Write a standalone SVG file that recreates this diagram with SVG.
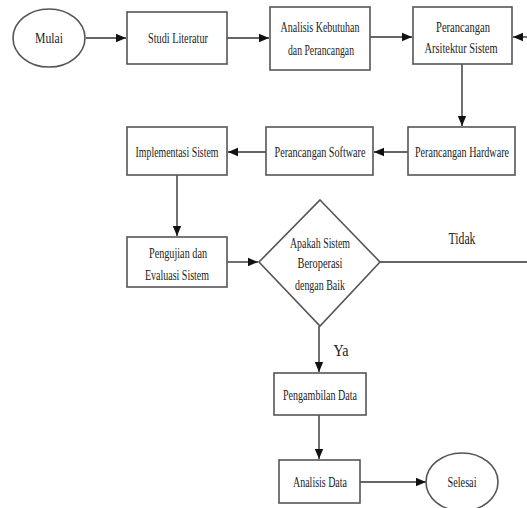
<svg xmlns="http://www.w3.org/2000/svg" width="527" height="508" viewBox="0 0 527 508">
<style>
.n{fill:#fff;stroke:#555;stroke-width:1.6}
.t{font-family:"Liberation Serif","Times New Roman",serif;font-size:14px;fill:#222;text-anchor:middle}
.b{font-size:17px}
.c{fill:none;stroke:#333;stroke-width:1.4}
</style>
<defs>
<marker id="ah" markerUnits="userSpaceOnUse" markerWidth="10" markerHeight="10" viewBox="0 0 10 10" refX="10" refY="5" orient="auto">
<path d="M0,0.8 L10,5 L0,9.2 Z" fill="#111"/>
</marker>
</defs>
<rect width="527" height="508" fill="#fff"/>
<g id="connectors">
<line class="c" x1="86" y1="38" x2="126" y2="38" marker-end="url(#ah)"/>
<line class="c" x1="227" y1="38" x2="269" y2="38" marker-end="url(#ah)"/>
<line class="c" x1="370" y1="37" x2="412" y2="37" marker-end="url(#ah)"/>
<line class="c" x1="527" y1="37" x2="513" y2="37" marker-end="url(#ah)"/>
<line class="c" x1="462" y1="64" x2="462" y2="126" marker-end="url(#ah)"/>
<line class="c" x1="408" y1="152" x2="374" y2="152" marker-end="url(#ah)"/>
<line class="c" x1="266" y1="152" x2="228" y2="152" marker-end="url(#ah)"/>
<line class="c" x1="177" y1="175" x2="177" y2="236" marker-end="url(#ah)"/>
<line class="c" x1="227" y1="262" x2="258" y2="262" marker-end="url(#ah)"/>
<line class="c" x1="380" y1="262" x2="527" y2="262"/>
<line class="c" x1="319" y1="326" x2="319" y2="372" marker-end="url(#ah)"/>
<line class="c" x1="319" y1="415" x2="319" y2="459" marker-end="url(#ah)"/>
<line class="c" x1="360" y1="482" x2="426" y2="482" marker-end="url(#ah)"/>
<text class="t b" x="462" y="244" textLength="27" lengthAdjust="spacingAndGlyphs">Tidak</text>
<text class="t b" x="341" y="356" textLength="15" lengthAdjust="spacingAndGlyphs">Ya</text>
</g>
<g id="mulai"><ellipse class="n" cx="49" cy="38" rx="36" ry="29"/><text class="t" x="49" y="43" textLength="28" lengthAdjust="spacingAndGlyphs">Mulai</text></g>
<g id="studi"><rect class="n" x="127" y="12" width="100" height="52"/><text class="t" x="178" y="43" textLength="60" lengthAdjust="spacingAndGlyphs">Studi Literatur</text></g>
<g id="analisis-kebutuhan"><rect class="n" x="270" y="7" width="100" height="63"/><text class="t" x="320" y="32" textLength="79" lengthAdjust="spacingAndGlyphs">Analisis Kebutuhan</text><text class="t" x="321" y="55" textLength="66" lengthAdjust="spacingAndGlyphs">dan Perancangan</text></g>
<g id="arsitektur"><rect class="n" x="413" y="7" width="99" height="57"/><text class="t" x="463" y="32" textLength="54" lengthAdjust="spacingAndGlyphs">Perancangan</text><text class="t" x="461" y="53" textLength="73" lengthAdjust="spacingAndGlyphs">Arsitektur Sistem</text></g>
<g id="hardware"><rect class="n" x="408" y="127" width="107" height="48"/><text class="t" x="462" y="157" textLength="94" lengthAdjust="spacingAndGlyphs">Perancangan Hardware</text></g>
<g id="software"><rect class="n" x="266" y="127" width="107" height="48"/><text class="t" x="320" y="157" textLength="91" lengthAdjust="spacingAndGlyphs">Perancangan Software</text></g>
<g id="implementasi"><rect class="n" x="127" y="127" width="100" height="48"/><text class="t" x="177" y="157" textLength="83" lengthAdjust="spacingAndGlyphs">Implementasi Sistem</text></g>
<g id="pengujian"><rect class="n" x="127" y="237" width="100" height="50"/><text class="t" x="178" y="258" textLength="58" lengthAdjust="spacingAndGlyphs">Pengujian dan</text><text class="t" x="177" y="280" textLength="64" lengthAdjust="spacingAndGlyphs">Evaluasi Sistem</text></g>
<g id="keputusan"><polygon class="n" points="320,200 380,262 320,326 259,262"/><text class="t" x="320" y="248" textLength="60" lengthAdjust="spacingAndGlyphs">Apakah Sistem</text><text class="t" x="320" y="268" textLength="45" lengthAdjust="spacingAndGlyphs">Beroperasi</text><text class="t" x="320" y="290" textLength="50" lengthAdjust="spacingAndGlyphs">dengan Baik</text></g>
<g id="pengambilan"><rect class="n" x="274" y="373" width="92" height="42"/><text class="t" x="320" y="400" textLength="74" lengthAdjust="spacingAndGlyphs">Pengambilan Data</text></g>
<g id="analisis-data"><rect class="n" x="279" y="460" width="81" height="43"/><text class="t" x="320" y="487" textLength="54" lengthAdjust="spacingAndGlyphs">Analisis Data</text></g>
<g id="selesai"><ellipse class="n" cx="462" cy="482" rx="36" ry="29"/><text class="t" x="462" y="487" textLength="29" lengthAdjust="spacingAndGlyphs">Selesai</text></g>
</svg>
